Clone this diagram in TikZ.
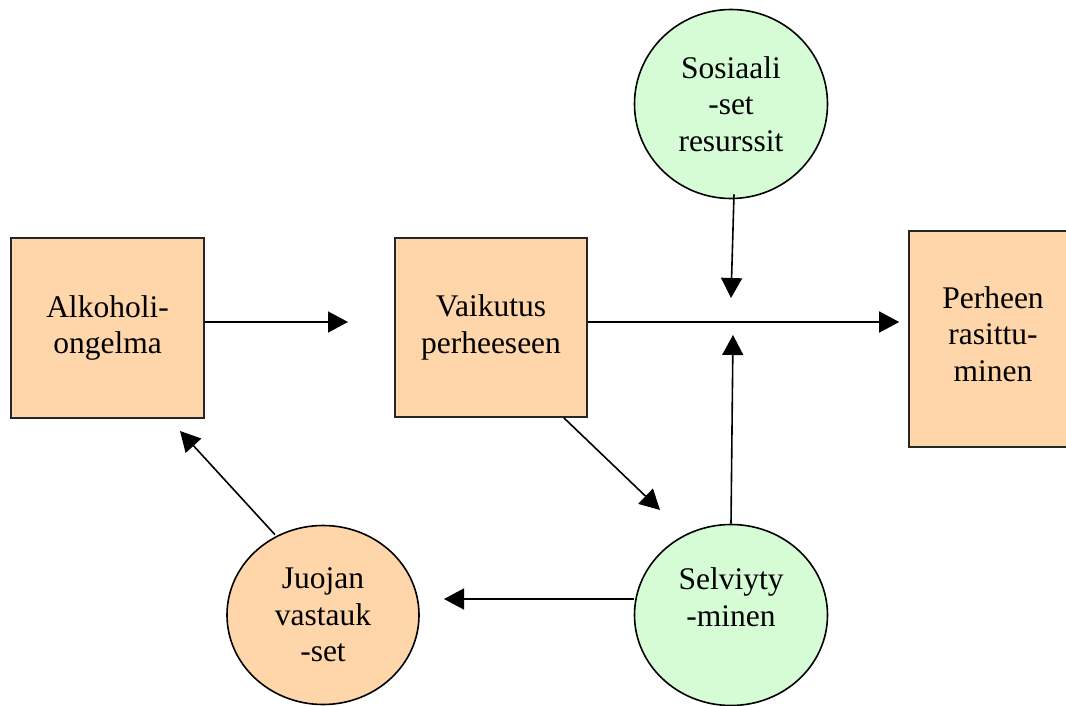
\documentclass[tikz,border=0pt]{standalone}
\usepackage{fontspec}
\setmainfont{Liberation Serif}
\usetikzlibrary{shapes.geometric,arrows.meta}
\definecolor{peach}{RGB}{255,214,170}
\definecolor{mint}{RGB}{214,252,214}
\tikzset{
  txt/.style={font=\fontsize{31.5}{36.5}\selectfont, align=center, text=black},
  boxnode/.style={txt, draw=black!85, line width=1.6pt, fill=peach, rectangle, inner sep=0pt},
  roundnode/.style={txt, draw=black, line width=1.6pt, ellipse, inner sep=0pt},
  arr/.style={line width=1.6pt, -{Triangle[length=20pt,width=21pt]}},
}
\begin{document}
\begin{tikzpicture}[x=1pt,y=-1pt]
\useasboundingbox (0,0) rectangle (1066,706);

% factor boxes
\node[boxnode, minimum width=193pt, minimum height=180pt] (alk) at (107.5,328) {Alkoholi-\\ongelma};
\node[boxnode, minimum width=192pt, minimum height=179pt] (vai) at (491,327.5) {Vaikutus\\perheeseen};
\node[boxnode, minimum width=168pt, minimum height=216pt,
      label={[txt, yshift=5pt]center:{Perheen\\rasittu-\\minen}}] (per) at (993,339) {};

% round nodes
\node[roundnode, fill=mint, minimum width=193pt, minimum height=189pt] (sos) at (731,104) {Sosiaali\\-set\\resurssit};
\node[roundnode, fill=mint, minimum width=193pt, minimum height=181pt,
      label={[txt, yshift=18pt]center:{Selviyty\\-minen}}] (sel) at (731,615) {};
\node[roundnode, fill=peach, minimum width=192pt, minimum height=179pt] (juo) at (323,615) {Juojan\\vastauk\\-set};

% free arrow ends
\coordinate (alkTip) at (348,322);
\coordinate (sosTip) at (731,298);
\coordinate (selTip) at (733,335);
\coordinate (vaiTip) at (660,510);
\coordinate (juoTip) at (444,599);
\coordinate (backTip) at (180,431);

% connectors
\draw[arr] (alk.east |- alkTip) -- (alkTip);
\draw[arr, shorten >=9pt] (vai.east |- alkTip) -- (per.west |- alkTip);
\draw[arr] ([xshift=3pt,yshift=5pt]sos.south) -- (sosTip);
\draw[arr] (sel.north) -- (selTip);
\draw[arr] ([xshift=-24pt]vai.south east) -- (vaiTip);
\draw[arr] (sel.west |- juoTip) -- (juoTip);
\draw[arr] ([xshift=-48pt,yshift=-10pt]juo.north) -- (backTip);
\end{tikzpicture}
\end{document}
